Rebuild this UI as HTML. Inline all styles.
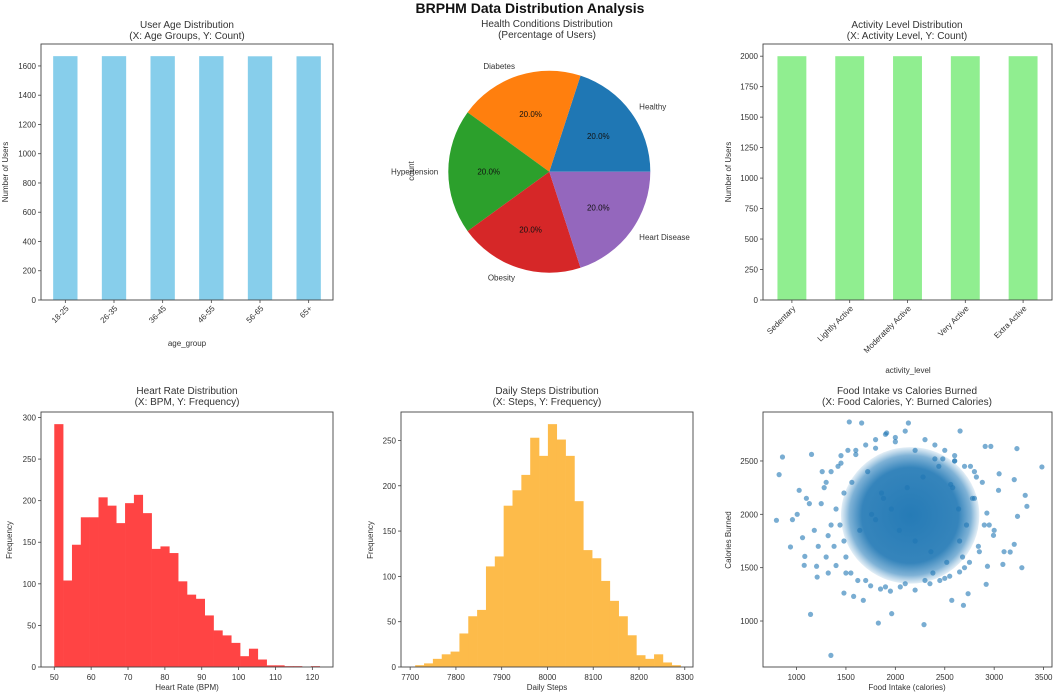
<!DOCTYPE html>
<html><head><meta charset="utf-8"><style>
html,body{margin:0;padding:0;background:#fff;overflow:hidden;}
svg{display:block;}
svg text{font-family:"Liberation Sans",sans-serif;fill:#333;}
</style></head><body>
<svg id="fig" width="1059" height="696" viewBox="0 0 1059 696" xmlns="http://www.w3.org/2000/svg">
<text x="530" y="13" text-anchor="middle" font-size="14" font-weight="bold" style="fill:#111">BRPHM Data Distribution Analysis</text>
</svg>
<script>
const ageCats=["18-25","26-35","36-45","46-55","56-65","65+"];
const ageCounts=[1667,1667,1667,1667,1666,1666];
const ageTicks=[0,200,400,600,800,1000,1200,1400,1600];
const actCats=["Sedentary","Lightly Active","Moderately Active","Very Active","Extra Active"];
const actCounts=[2000,2000,2000,2000,2000];
const actTicks=[0,250,500,750,1000,1250,1500,1750,2000];
const condLabels=["Healthy","Diabetes","Hypertension","Obesity","Heart Disease"];
const condShares=[20,20,20,20,20];
const condColors=["#1f77b4","#ff7f0e","#2ca02c","#d62728","#9467bd"];
const hrStart=50, hrWidth=2.4;
const hrCounts=[292,104,147,180,180,204,194,173,197,207,185,142,145,137,103,87,82,62,44,38,29,13,22,9,2,2,1,1,0,1];
const hrXTicks=[50,60,70,80,90,100,110,120];
const hrYTicks=[0,50,100,150,200,250,300];
const stStart=7711, stWidth=19.33;
const stCounts=[2,4,9,14,17,37,56,63,111,122,178,195,212,253,233,268,251,233,183,129,120,95,73,56,35,13,9,14,5,2];
const stXTicks=[7700,7800,7900,8000,8100,8200,8300];
const stYTicks=[0,50,100,150,200,250];
const foodVals=[797,824,858,939,959,1007,1027,1061,1084,1078,1142,1152,1203,1209,1321,1348,1480,1578,1676,1828,1963,2290,2132,1912,1534,1659,2655,2689,2571,2909,2966,3230,3483,3203,3314,3331,3236,3280,3203,3162,3088,2919,2932,2993,2926,3044,2736,
1250,1300,1350,1420,1380,1450,1500,1480,1550,1600,1620,1700,1750,1800,1850,1900,1950,2000,2050,2100,2200,2300,2350,2400,2450,2500,2550,2600,2650,2700,2750,2800,2850,2880,2900,2820,2780,2700,2600,2500,2400,2300,2200,2100,2000,1900,1800,1700,1600,1500,1450,1400,1350,1300,1280,1320,1400,1480,1560,1640,1720,1800,1880,1960,2040,2120,2200,2280,2360,2440,2520,2600,2680,2760,2840,2800,2720,2640,2560,1180,1220,1260,1130,1100,2950,3000,3050,3100,2480,2380,1760,1860,2580,2650,1520,1440];
const burnVals=[1944,2372,2537,1694,1950,2000,2225,1781,1606,1522,1062,2562,1513,1412,1450,678,1262,1231,1194,981,1069,966,2856,2762,2866,2856,2781,1147,1194,2637,2637,2616,2444,2325,2178,2075,1981,1500,1719,1647,1531,1344,1513,1803,2012,2225,1256,
2100,2300,1900,2450,1700,2550,1600,2200,1450,2600,1380,2650,1330,2700,1300,2750,1280,2720,1320,2780,1290,2700,1350,2650,1380,2600,1420,2550,1460,2450,1550,2400,1650,2300,1900,2350,2150,1500,2500,1400,2520,1380,2600,1350,2680,1320,2620,1380,2560,1450,2480,1520,2400,1600,2250,1800,2050,1750,2300,1850,2400,1950,2150,2050,1850,2250,1750,2350,1650,2450,1550,2500,1600,2450,1700,2150,1900,2050,2280,1850,1700,2400,2100,2150,1900,1850,2380,1650,2520,1450,2000,2200,2250,1750,2600,1900];

const svg=document.getElementById('fig');
const NS="http://www.w3.org/2000/svg";
function mk(tag,attrs,parent){const e=document.createElementNS(NS,tag);for(const k in attrs)e.setAttribute(k,attrs[k]);(parent||svg).appendChild(e);return e;}
function txt(s,x,y,size,anchor,parent,extra){const t=mk('text',Object.assign({x:x,y:y,'font-size':size,'text-anchor':anchor||'middle'},extra||{}),parent);t.textContent=s;return t;}
function frame(g,L,R,T,B){const r=mk('rect',{x:L,y:T,width:R-L,height:B-T,fill:'none',stroke:'#444','stroke-width':0.9},g);}
function title(g,l1,l2,cx,y){const t1=txt(l1,cx,y,10,'middle',g);const t2=txt(l2,cx,y+11,10,'middle',g);}
function yAxis(g,L,ys,ticks){ticks.forEach(v=>{const y=ys(v);mk('line',{x1:L-3,x2:L,y1:y,y2:y,stroke:'#444','stroke-width':0.8},g);const t=txt(String(v),L-5,y+3,8,'end',g);});}
function xAxisNum(g,B,xs,ticks){ticks.forEach(v=>{const x=xs(v);mk('line',{x1:x,x2:x,y1:B,y2:B+3,stroke:'#444','stroke-width':0.8},g);const t=txt(String(v),x,B+13,8,'middle',g);});}
function ylabel(g,s,x,y){const t=txt(s,x,y,8,'middle',g,{transform:`rotate(-90 ${x} ${y})`});}
function xlabel(g,s,x,y){const t=txt(s,x,y,8,'middle',g);}

// Panel 1: age bars
(function(){const g=mk('g',{});
const L=41,R=333,T=44,B=300,ymax=1750;const n=ageCats.length;const bw=(R-L)/n;
const xs=i=>L+(i+0.5)*bw, ys=v=>B-v/ymax*(B-T);
ageCounts.forEach((v,i)=>{const r=mk('rect',{x:xs(i)-bw*0.25,y:ys(v),width:bw*0.5,height:B-ys(v),fill:'#87ceeb'},g);});
frame(g,L,R,T,B);yAxis(g,L,ys,ageTicks);
ageCats.forEach((c,i)=>{const x=xs(i);mk('line',{x1:x,x2:x,y1:B,y2:B+3,stroke:'#444','stroke-width':0.8},g);const t=txt(c,x+4,B+9,8,'end',g,{transform:`rotate(-45 ${x+4} ${B+9})`});});
xlabel(g,'age_group',187,346);ylabel(g,'Number of Users',8,172);title(g,'User Age Distribution','(X: Age Groups, Y: Count)',187,28);})();

// Panel 2: pie
(function(){const g=mk('g',{});
const cx=549.3,cy=171.7,r=101;const tot=condShares.reduce((a,b)=>a+b,0);let a0=0;
condShares.forEach((v,i)=>{const a1=a0+v/tot*360;const p=d=>[cx+r*Math.cos(d*Math.PI/180),cy-r*Math.sin(d*Math.PI/180)];const s=p(a0),e=p(a1);const large=(a1-a0)>180?1:0;
const path=mk('path',{d:`M${cx},${cy} L${s[0]},${s[1]} A${r},${r} 0 ${large} 0 ${e[0]},${e[1]} Z`,fill:condColors[i]},g);
const m=(a0+a1)/2*Math.PI/180;const lx=cx+1.1*r*Math.cos(m),ly=cy-1.1*r*Math.sin(m);const anc=Math.cos(m)>0.01?'start':(Math.cos(m)<-0.01?'end':'middle');
const lt=txt(condLabels[i],lx,ly+3,8,anc,g);
const pt=txt(v.toFixed(1)+'%',cx+0.6*r*Math.cos(m),cy-0.6*r*Math.sin(m)+3,8,'middle',g,{style:'fill:#111'});a0=a1;});
ylabel(g,'count',414,171);title(g,'Health Conditions Distribution','(Percentage of Users)',547,27);})();

// Panel 3: activity bars
(function(){const g=mk('g',{});
const L=763,R=1052,T=44,B=300,ymax=2100;const n=actCats.length;const bw=(R-L)/n;
const xs=i=>L+(i+0.5)*bw, ys=v=>B-v/ymax*(B-T);
actCounts.forEach((v,i)=>{const r=mk('rect',{x:xs(i)-bw*0.25,y:ys(v),width:bw*0.5,height:B-ys(v),fill:'#90ee90'},g);});
frame(g,L,R,T,B);yAxis(g,L,ys,actTicks);
actCats.forEach((c,i)=>{const x=xs(i);mk('line',{x1:x,x2:x,y1:B,y2:B+3,stroke:'#444','stroke-width':0.8},g);const t=txt(c,x+4,B+9,8,'end',g,{transform:`rotate(-45 ${x+4} ${B+9})`});});
xlabel(g,'activity_level',908,373);ylabel(g,'Number of Users',731,172);title(g,'Activity Level Distribution','(X: Activity Level, Y: Count)',907,28);})();

// Panel 4: heart rate hist
(function(){const g=mk('g',{});
const L=41,R=333,T=412,B=667,x0=46.4,x1=125.6,ymax=306.6;
const xs=v=>L+(v-x0)/(x1-x0)*(R-L), ys=v=>B-v/ymax*(B-T);
hrCounts.forEach((v,i)=>{if(v<=0)return;const a=xs(hrStart+i*hrWidth),b=xs(hrStart+(i+1)*hrWidth);const r=mk('rect',{x:a,y:ys(v),width:b-a+0.3,height:B-ys(v),fill:'#ff4444'},g);});
frame(g,L,R,T,B);yAxis(g,L,ys,hrYTicks);xAxisNum(g,B,xs,hrXTicks);
xlabel(g,'Heart Rate (BPM)',187,690);ylabel(g,'Frequency',12,540);title(g,'Heart Rate Distribution','(X: BPM, Y: Frequency)',187,394);})();

// Panel 5: steps hist
(function(){const g=mk('g',{});
const L=401,R=693,T=412,B=667,x0=7680,x1=8318,ymax=281.4;
const xs=v=>L+(v-x0)/(x1-x0)*(R-L), ys=v=>B-v/ymax*(B-T);
stCounts.forEach((v,i)=>{if(v<=0)return;const a=xs(stStart+i*stWidth),b=xs(stStart+(i+1)*stWidth);const r=mk('rect',{x:a,y:ys(v),width:b-a+0.3,height:B-ys(v),fill:'#fdbb4a'},g);});
frame(g,L,R,T,B);yAxis(g,L,ys,stYTicks);xAxisNum(g,B,xs,stXTicks);
xlabel(g,'Daily Steps',547,690);ylabel(g,'Frequency',373,540);title(g,'Daily Steps Distribution','(X: Steps, Y: Frequency)',547,394);})();

// Panel 6: scatter
(function(){const g=mk('g',{});
const L=763,R=1052,T=412,B=667,x0=661,x1=3585,y0=569,y1=2959;
const xs=v=>L+(v-x0)/(x1-x0)*(R-L), ys=v=>B-(v-y0)/(y1-y0)*(B-T);
const defs=mk('defs',{},g);const rg=mk('radialGradient',{id:'core'},defs);
mk('stop',{offset:'0%','stop-color':'#1f77b4','stop-opacity':0.97},rg);mk('stop',{offset:'70%','stop-color':'#1f77b4','stop-opacity':0.9},rg);mk('stop',{offset:'88%','stop-color':'#2a7fbb','stop-opacity':0.6},rg);mk('stop',{offset:'100%','stop-color':'#4a93c6','stop-opacity':0.15},rg);
const core=mk('ellipse',{cx:xs(2150),cy:ys(1990),rx:(xs(2850)-xs(2150)),ry:(ys(1350)-ys(1990)),fill:'url(#core)'},g);
const n=Math.min(foodVals.length,burnVals.length);
for(let i=0;i<n;i++){const c=mk('circle',{cx:xs(foodVals[i]),cy:ys(burnVals[i]),r:2.6,fill:'#1f77b4','fill-opacity':0.6},g);}
frame(g,L,R,T,B);yAxis(g,L,ys,[1000,1500,2000,2500]);xAxisNum(g,B,xs,[1000,1500,2000,2500,3000,3500]);
xlabel(g,'Food Intake (calories)',907,690);ylabel(g,'Calories Burned',731,540);title(g,'Food Intake vs Calories Burned','(X: Food Calories, Y: Burned Calories)',907,394);})();
</script>
</body></html>
